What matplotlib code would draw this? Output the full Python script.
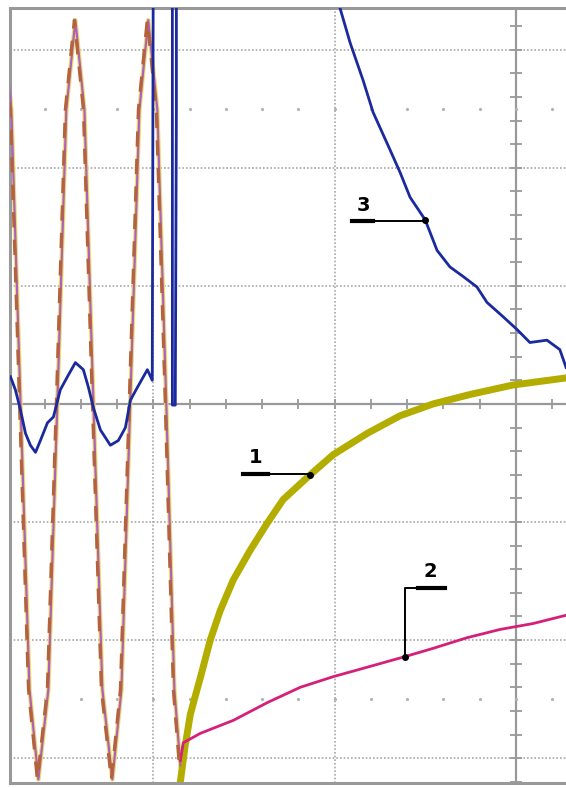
import matplotlib
matplotlib.use("Agg")
import matplotlib.pyplot as plt
import numpy as np

# oscillogram traces, 1 division = 100 units on both axes
# sine part before the switching moment (shared by traces 1 and 2)
sine_x = [-283.2, -278.3, -273.3, -268.3, -263.4, -257.9, -252.9, -248.0, -243.0,
          -238.0, -233.1, -228.1, -222.6, -217.6, -212.7, -207.7, -202.8, -197.8,
          -192.9, -188.4, -185.1]
sine_y = [325, 249, 3, -242, -318, -242, 3, 249, 325,
          249, 3, -242, -318, -242, 3, 249, 325, 249,
          3, -242, -306]

# trace 1 (olive) - exponential rise after switching
c1_x = [-185.1, -182.5, -179.6, -176.8, -174.1, -168.6, -163.1, -155.9, -146.6,
        -137.2, -128.4, -113.5, -100.8, -82.1, -63.9, -45.7, -25.3, -1.7, 27.6]
c1_y = [-320, -290, -263, -247, -232, -200, -175, -149, -124,
        -101, -81, -60, -43, -25, -10, 0, 8, 16, 22]

# trace 2 (magenta) - slow rise
c2_x = [-185.1, -183.5, -174.1, -155.9, -137.2, -119.0, -100.8, -82.1, -61.2,
        -45.7, -27.0, -8.8, 9.4, 27.6]
c2_y = [-302, -287, -279, -268, -253, -240, -231, -223, -214,
        -207, -198, -191, -186, -179]

# trace 3 (blue)
c3_x = [-278.8, -276.1, -273.3, -270.5, -267.8, -265.0, -262.3, -258.4, -255.1,
        -251.3, -247.4, -243.0, -238.6, -235.8, -233.1, -229.2, -223.7, -219.3,
        -215.4, -212.7, -208.8, -203.3, -200.6, -200.0, -189.5, -189.5, -187.9,
        -187.3, -187.3, -98.1, -97.0, -91.5, -84.3, -78.8, -69.4, -63.9, -58.4,
        -50.1, -43.5, -36.4, -29.2, -21.5, -16.0, -7.2, 0.6, 7.7, 17.1, 24.2, 27.6]
c3_y = [23, 12, -5, -25, -35, -41, -31, -16, -11,
        12, 23, 35, 29, 14, -3, -22, -35, -31,
        -20, 3, 14, 29, 20, 400, 400, -1, -1,
        249, 400, 400, 335, 306, 274, 247, 215, 196, 175,
        156, 130, 116, 108, 99, 86, 74, 63, 52, 54, 46, 31]

labels = ["1", "2", "3"]

fig = plt.figure(figsize=(5.66, 7.88), dpi=100)
ax = fig.add_axes([0.0185, 0.0064, 0.9815, 0.9836])
ax.set_xlim(-278.8, 27.6)
ax.set_ylim(-321, 335.4)

grid_c = "#a8a8a8"
# dotted grid
for gx in [-200, -100]:
    ax.axvline(gx, color=grid_c, lw=1.2, ls=(0, (1, 1.2)), zorder=0)
for gy in [-300, -200, -100, 100, 200, 300]:
    ax.axhline(gy, color=grid_c, lw=1.2, ls=(0, (1, 1.2)), zorder=0)
# centre axes with small ticks
ax.axhline(0, color="#999999", lw=1.6, zorder=0)
ax.axvline(0, color="#999999", lw=1.6, zorder=0)
tx = np.arange(-280, 40, 20)
ax.plot(tx, np.zeros_like(tx), ls="none", marker="|", ms=7, mew=1.3,
        color="#999999", zorder=0)
ty = np.arange(-320, 340, 20)
ax.plot(np.zeros_like(ty), ty, ls="none", marker="_", ms=9, mew=1.3,
        color="#999999", zorder=0)
# faint dots at half divisions
for gy in [-250, 250]:
    ax.plot(tx, np.full_like(tx, gy), ls="none", marker=".", ms=2.5,
            color="#b0b0b0", zorder=0)

# traces
ax.plot(sine_x, sine_y, color="#e8e070", lw=3.2, zorder=1)
ax.plot(c1_x, c1_y, color="#b3ad00", lw=5, zorder=2,
        solid_joinstyle="round", solid_capstyle="round")
ax.plot(sine_x, sine_y, color="#b060b8", lw=1.6, zorder=3)
ax.plot(np.array(sine_x) - 0.6, sine_y, color="#b5623a", lw=2.2,
        ls=(0, (5, 4)), zorder=4)
ax.plot(c2_x, c2_y, color="#d4207a", lw=2.0, zorder=3)
ax.plot(c3_x, c3_y, color="#1a2a9e", lw=2.0, zorder=5)

# leader lines with labels
lead_kw = dict(color="black", lw=1.4, zorder=6)
under_kw = dict(color="black", lw=3.0, zorder=6)
# 1
ax.plot([-150.4, -113.5], [-59, -59], **lead_kw)
ax.plot([-150.4, -136.6], [-59, -59], **under_kw)
ax.plot([-113.5], [-60], "o", color="black", ms=4, zorder=7)
ax.text(-143.5, -53, labels[0], fontsize=14, fontweight="bold",
        ha="center", va="bottom", zorder=7)
# 2
ax.plot([-61.2, -61.2, -39.1], [-214.3, -155.8, -155.8], **lead_kw)
ax.plot([-54.0, -39.1], [-155.8, -155.8], **under_kw)
ax.plot([-61.2], [-214.3], "o", color="black", ms=4, zorder=7)
ax.text(-47.5, -150, labels[1], fontsize=14, fontweight="bold",
        ha="center", va="bottom", zorder=7)
# 3
ax.plot([-90.4, -50.1], [154.5, 154.5], **lead_kw)
ax.plot([-90.4, -78.8], [154.5, 154.5], **under_kw)
ax.plot([-50.1], [155.8], "o", color="black", ms=4, zorder=7)
ax.text(-84.0, 160, labels[2], fontsize=14, fontweight="bold",
        ha="center", va="bottom", zorder=7)

ax.set_xticks([])
ax.set_yticks([])
for side in ["top", "left", "bottom"]:
    ax.spines[side].set_color("#999999")
    ax.spines[side].set_linewidth(2.2)
ax.spines["right"].set_visible(False)

fig.savefig("out.png", dpi=100)
